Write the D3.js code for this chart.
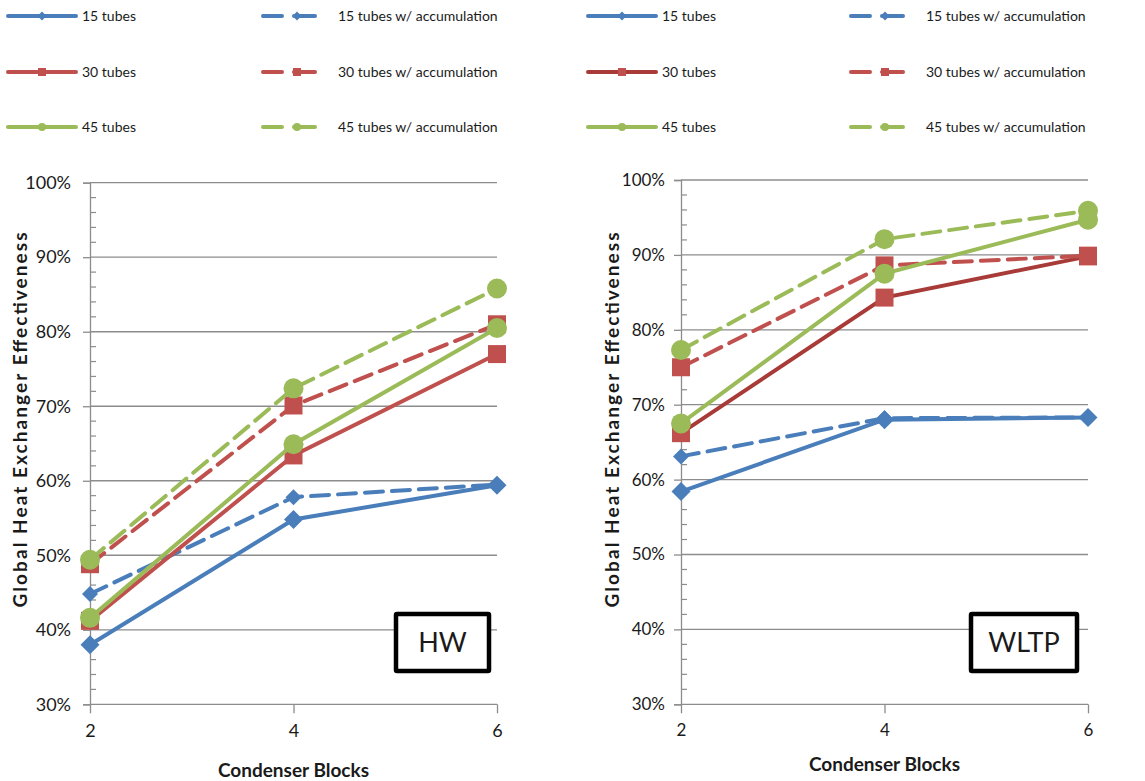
<!DOCTYPE html>
<html lang="en">
<head>
<meta charset="utf-8">
<title>Global Heat Exchanger Effectiveness</title>
<script src="https://cdn.jsdelivr.net/npm/d3@7"></script>
<style>
  body { margin: 0; background: #fff; }
  text { font-family: Lato, "Open Sans", sans-serif; fill: #1a1a1a; }
</style>
</head>
<body>
<svg width="1145" height="781"></svg>
<script>
// data (effectiveness in %)
var blocks = [2, 4, 6];
var yTicks = [30, 40, 50, 60, 70, 80, 90, 100];
var seriesNames = ["15 tubes", "15 tubes w/ accumulation", "30 tubes", "30 tubes w/ accumulation", "45 tubes", "45 tubes w/ accumulation"];
var panelNames = ["HW", "WLTP"];

var hw15 = [38.0, 54.8, 59.4];
var hw15acc = [44.8, 57.8, 59.5];
var hw30 = [41.2, 63.4, 77.0];
var hw30acc = [48.8, 70.1, 81.0];
var hw45 = [41.6, 64.9, 80.5];
var hw45acc = [49.4, 72.4, 85.8];

var wltp15 = [58.4, 68.0, 68.3];
var wltp15acc = [63.1, 68.2, 68.3];
var wltp30 = [66.2, 84.3, 89.8];
var wltp30acc = [75.0, 88.6, 89.9];
var wltp45 = [67.5, 87.5, 94.7];
var wltp45acc = [77.3, 92.1, 95.9];

var blue = "#4a7ebb", red = "#c0504d", green = "#9bbb59";

var svg = d3.select("svg");

// marker path, centred on 0,0
function marker(shape, s) {
  if (shape == "diamond") return "M0," + (-s) + "L" + s + ",0L0," + s + "L" + (-s) + ",0Z";
  if (shape == "square") return "M" + (-s) + "," + (-s) + "h" + (2*s) + "v" + (2*s) + "h" + (-2*s) + "Z";
  return d3.arc()({innerRadius: 0, outerRadius: s, startAngle: 0, endAngle: 2*Math.PI});
}

var panels = [
  {name: panelNames[0], x0: 90, x1: 497, top: 182.7, bottom: 704.3, lx: 0, titleX: 20, boxX: 396, darkRed: red,
   values: [hw15, hw15acc, hw30, hw30acc, hw45, hw45acc]},
  {name: panelNames[1], x0: 681, x1: 1088, top: 180, bottom: 704.3, lx: 580, titleX: 612, boxX: 971, darkRed: "#a83a37",
   values: [wltp15, wltp15acc, wltp30, wltp30acc, wltp45, wltp45acc]}
];

panels.forEach(function(p) {
  var x = d3.scaleLinear().domain([2, 6]).range([p.x0, p.x1]);
  var y = d3.scaleLinear().domain([30, 100]).range([p.bottom, p.top]);
  var g = svg.append("g");

  var styles = [
    {color: blue, dash: null, shape: "diamond", size: 9.5, lw: blue},
    {color: blue, dash: "18,9", shape: "diamond", size: 8, lw: blue},
    {color: red, dash: null, shape: "square", size: 9, lw: p.darkRed},
    {color: red, dash: "18,9", shape: "square", size: 9, lw: red},
    {color: green, dash: null, shape: "circle", size: 10, lw: green},
    {color: green, dash: "18,9", shape: "circle", size: 10, lw: green}
  ];

  // gridlines
  g.selectAll(".grid").data(yTicks).enter().append("line")
    .attr("x1", p.x0).attr("x2", p.x1)
    .attr("y1", function(d) { return y(d); }).attr("y2", function(d) { return y(d); })
    .attr("stroke", "#8c8c8c").attr("stroke-width", 1.3);

  // minor ticks inside
  var minor = d3.range(30, 100, 2).filter(function(d) { return d % 10 != 0; });
  g.selectAll(".minor").data(minor).enter().append("line")
    .attr("x1", p.x0).attr("x2", p.x0 + 6)
    .attr("y1", function(d) { return y(d); }).attr("y2", function(d) { return y(d); })
    .attr("stroke", "#8c8c8c").attr("stroke-width", 1.2);

  // y axis
  var ya = g.append("g").attr("transform", "translate(" + p.x0 + ",0)")
    .call(d3.axisLeft(y).tickValues(yTicks).tickSize(7).tickPadding(p.name == "HW" ? 12 : 9).tickFormat(function(d) { return d + "%"; }));
  ya.select(".domain").attr("stroke", "#8c8c8c").attr("stroke-width", 1.3);
  ya.selectAll(".tick line").attr("stroke", "#8c8c8c").attr("stroke-width", 1.3);
  ya.selectAll("text").style("font-size", p.name == "HW" ? "18px" : "17px").style("font-family", "Lato").attr("fill", "#1a1a1a");

  // x axis
  var xa = g.append("g").attr("transform", "translate(0," + p.bottom + ")")
    .call(d3.axisBottom(x).tickValues(blocks).tickSize(9).tickPadding(11).tickFormat(d3.format("d")));
  xa.select(".domain").remove();
  xa.selectAll(".tick line").attr("stroke", "#8c8c8c").attr("stroke-width", 1.3);
  xa.selectAll("text").style("font-size", p.name == "HW" ? "18px" : "17px").style("font-family", "Lato").attr("fill", "#1a1a1a");

  // axis titles
  g.append("text").attr("x", (p.x0 + p.x1) / 2).attr("y", p.name == "HW" ? 777 : 771)
    .attr("text-anchor", "middle").style("font-size", "19px").style("font-weight", "bold")
    .text("Condenser Blocks");
  g.append("text").attr("transform", "translate(" + (p.titleX + 7) + ",420) rotate(-90)")
    .attr("text-anchor", "middle").style("font-size", "19px").style("font-weight", "bold")
    .attr("textLength", 375).attr("lengthAdjust", "spacing")
    .text("Global Heat Exchanger Effectiveness");

  // series
  var line = d3.line().x(function(d, i) { return x(blocks[i]); }).y(function(d) { return y(d); });
  p.values.forEach(function(vals, k) {
    var s = styles[k];
    g.append("path").attr("d", line(vals)).attr("fill", "none")
      .attr("stroke", s.lw).attr("stroke-width", 4).attr("stroke-linecap", "round")
      .attr("stroke-dasharray", s.dash);
    g.selectAll(".m" + k).data(vals).enter().append("path")
      .attr("transform", function(d, i) { return "translate(" + x(blocks[i]) + "," + y(d) + ")"; })
      .attr("d", marker(s.shape, s.size)).attr("fill", s.color);
  });

  // label box
  g.append("rect").attr("x", p.boxX).attr("y", 614).attr("width", p.name == "HW" ? 93 : 106).attr("height", 57)
    .attr("fill", "#fff").attr("stroke", "#000").attr("stroke-width", 4.5).attr("rx", 1);
  g.append("text").attr("x", p.boxX + (p.name == "HW" ? 46.5 : 53)).attr("y", 652)
    .attr("text-anchor", "middle").style("font-size", "27px").text(p.name);

  // legend
  var rows = [16, 72, 127];
  styles.forEach(function(s, k) {
    var ry = rows[Math.floor(k / 2)];
    var acc = k % 2 == 1;
    var lg = g.append("g");
    if (!acc) {
      lg.append("line").attr("x1", p.lx + 8).attr("x2", p.lx + 76).attr("y1", ry).attr("y2", ry)
        .attr("stroke", s.lw).attr("stroke-width", 4).attr("stroke-linecap", "round");
      lg.append("path").attr("transform", "translate(" + (p.lx + 42) + "," + ry + ")")
        .attr("d", marker(s.shape, s.shape == "diamond" ? 4.5 : 4)).attr("fill", s.color);
      lg.append("text").attr("x", p.lx + 82).attr("y", ry + 5).style("font-size", "14px").text(seriesNames[k]);
    } else {
      var lx = p.lx + (p.name == "HW" ? 263 : 271);
      lg.append("line").attr("x1", lx).attr("x2", lx + 19).attr("y1", ry).attr("y2", ry)
        .attr("stroke", s.lw).attr("stroke-width", 4).attr("stroke-linecap", "round");
      lg.append("line").attr("x1", lx + 31).attr("x2", lx + 52).attr("y1", ry).attr("y2", ry)
        .attr("stroke", s.lw).attr("stroke-width", 4).attr("stroke-linecap", "round");
      lg.append("path").attr("transform", "translate(" + (lx + 34) + "," + ry + ")")
        .attr("d", marker(s.shape, s.shape == "diamond" ? 4.5 : 4)).attr("fill", s.color);
      lg.append("text").attr("x", lx + 75).attr("y", ry + 5).style("font-size", "14px").text(seriesNames[k]);
    }
  });
});
</script>
</body>
</html>
